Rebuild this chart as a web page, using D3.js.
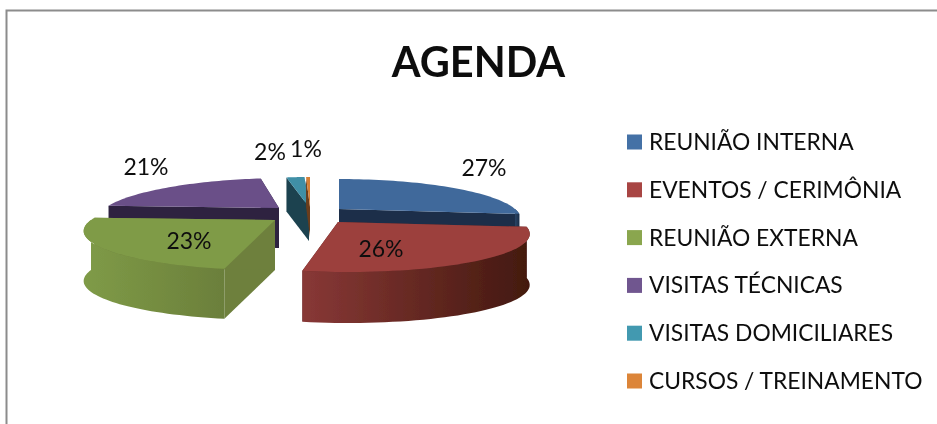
<!DOCTYPE html>
<html><head><meta charset="utf-8">
<script src="https://cdnjs.cloudflare.com/ajax/libs/d3/7.8.5/d3.min.js"></script>
<style>html,body{margin:0;padding:0;background:#fff}svg{display:block}text{font-family:Lato,"Open Sans",sans-serif;fill:#111}</style>
</head><body><svg id="c" width="937" height="424"></svg>
<script>
// --- data ---
const title = "AGENDA";
const categories = ["REUNIÃO INTERNA","EVENTOS / CERIMÔNIA","REUNIÃO EXTERNA","VISITAS TÉCNICAS","VISITAS DOMICILIARES","CURSOS / TREINAMENTO"];
const values = [27, 26, 23, 21, 2.4, 0.6];
const colors = ["#4471a6","#a84543","#8aa64e","#70568f","#4299b0","#dc8539"];
const topColors = ["#41699b","#9c403e","#7f9b47","#6a5088","#3f8fa6","#d67f36"];
const faceColors = ["#1c2f49","#5a2523","#6e803e","#2e2340","#1d4350","#6a3c1a"];
const wallLight = ["#2a4566","#883836","#7f9b47","#3d2f55","#2a6070","#8a5020"];
const wallDark = ["#1c2f49","#43190f","#6b7f3b","#2e2340","#1d4350","#6a3c1a"];

// --- layout of the exploded 3D pie ---
const apexX = [339, 338, 275, 279, 309, 310];
const apexY = [209, 222, 220, 208, 207, 207];
const radius = [176, 183, 184, 174, 150, 130];
const depth = [36, 51, 50, 40, 34, 30];
const skew = [0, -10, 5, 8, 0, 0];
const ryBase = 37.5, persp = 0.25;
const labelAnchors = [[484,168],[381,249],[189,241],[146,167],[270,152],[306,149]];

const svg = d3.select("#c");
const defs = svg.append("defs");
defs.append("filter").attr("id","soft").append("feGaussianBlur").attr("stdDeviation",0.6);
const soft2 = defs.append("filter").attr("id","softText");
soft2.append("feGaussianBlur").attr("stdDeviation",0.3);

// border
svg.append("path").attr("d","M6.5,424V10.5H937").attr("fill","none").attr("stroke","#8c8c8c").attr("stroke-width",2);

svg.append("text").attr("x",478.5).attr("y",77).attr("text-anchor","middle")
  .attr("font-size",41.5).attr("font-weight",700).attr("fill","#000").attr("filter","url(#softText)").text(title);

const pie = d3.pie().sort(null).startAngle(0).endAngle(2*Math.PI);
const arcs = pie(values);
const line = d3.line();

function project(i, a, r = 1){
  const x = Math.sin(a)*r, z = Math.cos(a)*r, s = 1/(1+persp*z);
  return [apexX[i] + radius[i]*x*s + skew[i]*z, apexY[i] - ryBase*z*s];
}
const down = (p, t) => [p[0], p[1]+t];
const rim = (i, a0, a1) => d3.range(0, 49).map(k => project(i, a0 + (a1-a0)*k/48));

const g = svg.append("g").attr("filter","url(#soft)");
const order = [3,4,5,0,1,2];
order.forEach(i => {
  const {startAngle:a0, endAngle:a1} = arcs[i];
  const apex = [apexX[i], apexY[i]], t = depth[i];
  // cut faces
  [a0, a1].forEach(a => {
    const p = project(i, a);
    g.append("path").attr("d", line([apex, p, down(p,t), down(apex,t)]) + "Z").attr("fill", faceColors[i]);
  });
  // outer wall
  const w0 = Math.max(a0, Math.PI/2), w1 = Math.min(a1, 3*Math.PI/2);
  if (w1 > w0) {
    const r = rim(i, w0, w1);
    const xs = d3.extent(r, d => d[0]);
    const id = "wall"+i;
    const gr = defs.append("linearGradient").attr("id",id).attr("gradientUnits","userSpaceOnUse")
      .attr("x1",xs[0]).attr("x2",xs[1]).attr("y1",0).attr("y2",0);
    gr.append("stop").attr("offset",0).attr("stop-color",wallLight[i]);
    gr.append("stop").attr("offset",1).attr("stop-color",wallDark[i]);
    g.append("path").attr("d", line(r.concat(r.slice().reverse().map(p=>down(p,t)))) + "Z").attr("fill",`url(#${id})`);
  }
  // top surface
  g.append("path").attr("d", line([apex].concat(rim(i,a0,a1))) + "Z").attr("fill", topColors[i]);
});

// labels
svg.append("g").selectAll("text").data(values).join("text")
  .attr("x",(d,i)=>labelAnchors[i][0]).attr("y",(d,i)=>labelAnchors[i][1])
  .attr("dy","0.35em").attr("text-anchor","middle").attr("font-size",23).attr("filter","url(#softText)")
  .text(d=>Math.round(d)+"%");

// legend
const legendY = d3.scalePoint().domain(categories).range([142,381]);
const lg = svg.append("g").selectAll("g").data(categories).join("g")
  .attr("transform",d=>`translate(627,${legendY(d)})`);
lg.append("rect").attr("x",0).attr("y",-7.5).attr("width",15).attr("height",15).attr("fill",(d,i)=>colors[i]);
lg.append("text").attr("x",22).attr("y",0).attr("dy","0.35em").attr("font-size",22.8).attr("filter","url(#softText)").text(d=>d);
</script></body></html>
